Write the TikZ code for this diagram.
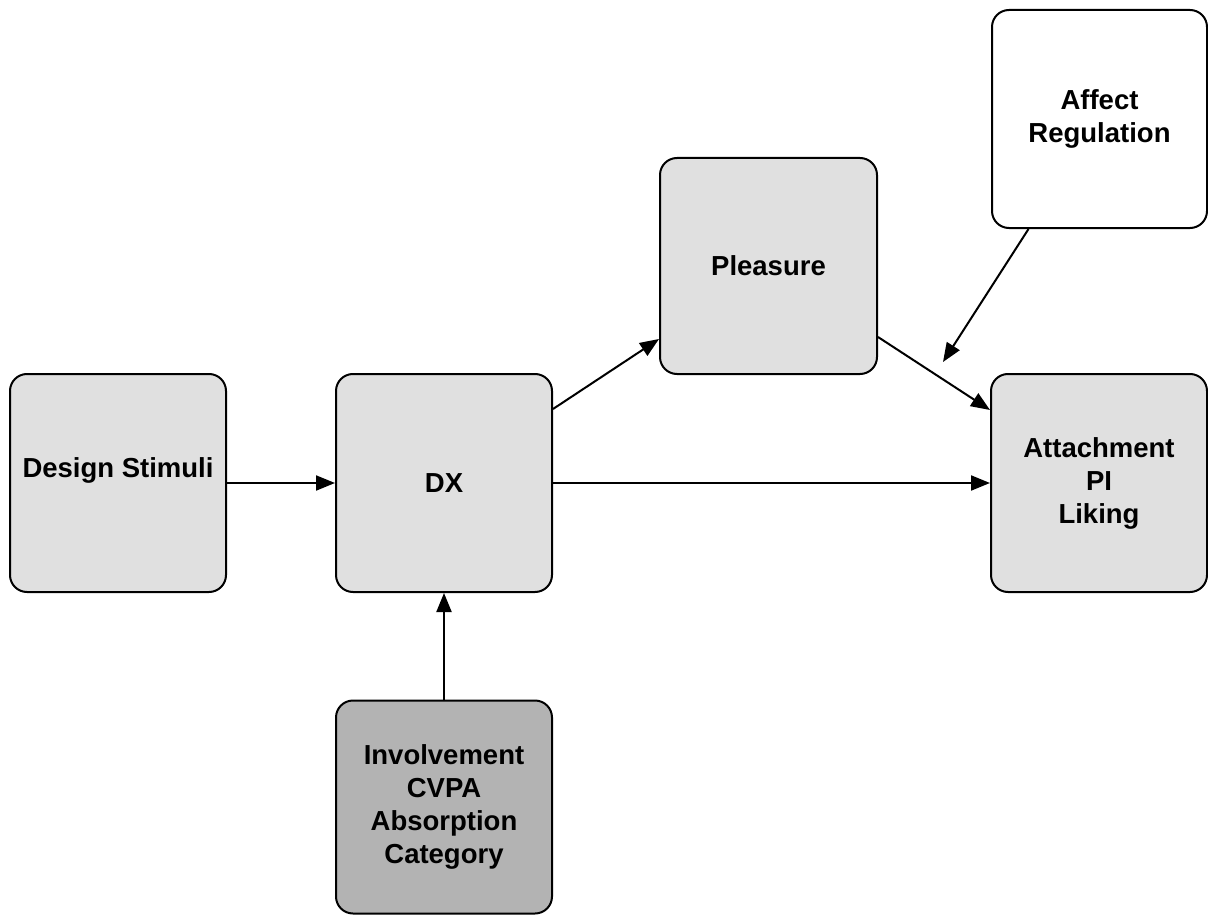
\documentclass[tikz,border=0pt]{standalone}
\usepackage{fontspec}
\setmainfont{Liberation Sans}
\usepackage{tikz}
\usetikzlibrary{arrows.meta}
\definecolor{boxgray}{HTML}{E0E0E0}
\definecolor{deepgray}{HTML}{B3B3B3}

\begin{document}
\begin{tikzpicture}[x=1pt,y=-1pt,
    box/.style={draw,line width=2pt,rounded corners=17pt,fill=boxgray,
      minimum width=216pt,minimum height=218pt,align=center,
      font=\bfseries\fontsize{27.5}{33}\selectfont},
    link/.style={-{Triangle[length=19pt,width=15pt]},line width=2pt}]
    \useasboundingbox (0,0) rectangle (1208,915);
    \node[box] (stim) at (118,483) {Design Stimuli\\[-2pt]\mbox{}};
    \node[box] (dx) at (444,483) {DX};
    \node[box,minimum width=217pt,minimum height=216pt] (pleas) at (768.5,266) {Pleasure};
    \node[box,fill=white,minimum width=215pt] (affect) at (1099.5,119) {Affect\\Regulation};
    \node[box] (attach) at (1099,483) {Attachment\\PI\\Liking};
    \node[box,fill=deepgray,minimum height=213pt] (involve) at (444,807) {Involvement\\CVPA\\Absorption\\Category};
    \coordinate (moder) at (943,362);
    % arrows between the boxes
    \draw[link] (stim) -- (dx);
    \draw[link] (dx) -- (attach);
    \draw[link] ([yshift=74pt]dx.east) -- ([yshift=-73pt]pleas.west);
    \draw[link] ([yshift=-71pt]pleas.east) -- ([yshift=73pt]attach.west);
    \draw[link] ([xshift=-71pt]affect.south) -- (moder);
    \draw[link] (involve) -- (dx);
  \end{tikzpicture}
\end{document}
